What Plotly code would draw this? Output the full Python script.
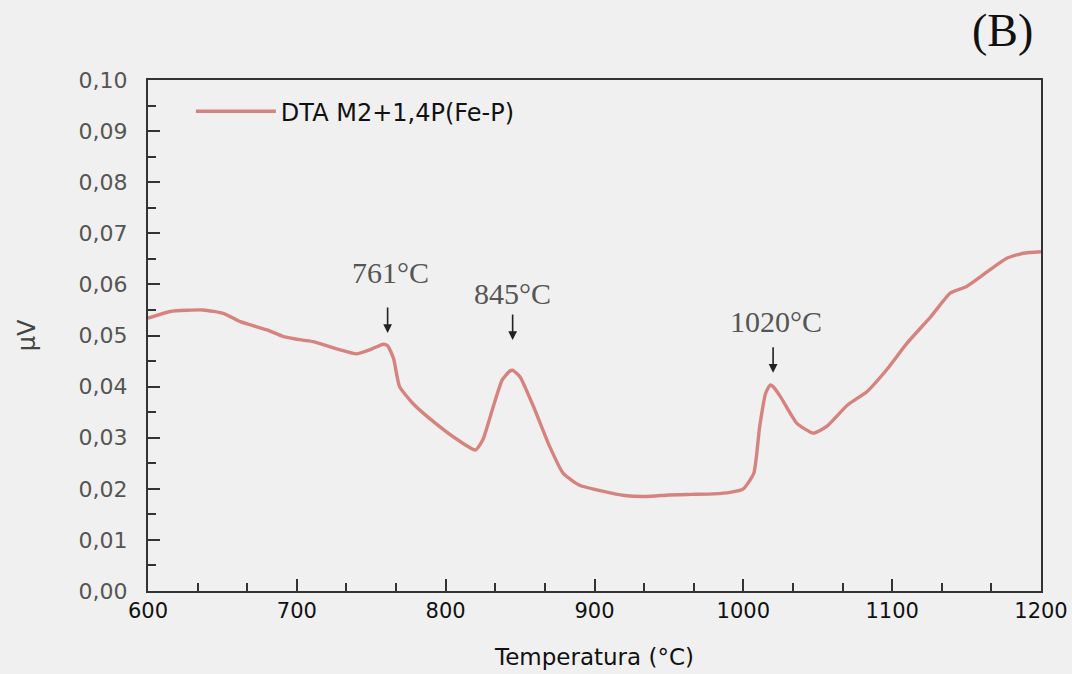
import plotly.graph_objects as go

temperature = [600, 615, 637, 651, 662, 680, 691, 704, 711, 729, 740, 749, 758, 761, 765, 769,
               778, 792, 808, 820, 825, 832, 838, 843, 845, 850, 859, 870, 879, 890, 906, 920,
               935, 950, 965, 980, 991, 1000, 1007, 1011, 1015, 1018, 1020, 1025, 1036, 1047,
               1056, 1070, 1083, 1096, 1110, 1126, 1139, 1150, 1164, 1177, 1188, 1200]
dta = [0.0534, 0.0547, 0.0550, 0.0543, 0.0527, 0.0511, 0.0498, 0.0491, 0.0488, 0.0472, 0.0464,
       0.0472, 0.0483, 0.0480, 0.0455, 0.0400, 0.0367, 0.0331, 0.0296, 0.0276, 0.0296, 0.0361,
       0.0413, 0.0430, 0.0432, 0.0419, 0.0361, 0.0282, 0.0230, 0.0207, 0.0195, 0.0187, 0.0185,
       0.0188, 0.0189, 0.0190, 0.0193, 0.0200, 0.0230, 0.0322, 0.0387, 0.0403, 0.0400, 0.0380,
       0.0328, 0.0309, 0.0322, 0.0364, 0.0390, 0.0432, 0.0485, 0.0537, 0.0583, 0.0596, 0.0625,
       0.0651, 0.0661, 0.0664]

peak_temps = [761, 845, 1020]
peak_arrow_tips = [0.0505, 0.0491, 0.0427]
peak_label_x = [763, 845, 1022]
peak_label_y = [0.0624, 0.0583, 0.0528]
peak_labels = ["761°C", "845°C", "1020°C"]

x_ticks = [600, 700, 800, 900, 1000, 1100, 1200]
y_ticks = [0.00, 0.01, 0.02, 0.03, 0.04, 0.05, 0.06, 0.07, 0.08, 0.09, 0.10]

bg = "#f0f0f0"
fig = go.Figure()
fig.add_trace(go.Scatter(
    x=temperature, y=dta, mode="lines", name="DTA M2+1,4P(Fe-P)",
    line=dict(color="#d6837f", width=3.4, shape="spline", smoothing=0.5),
))

annotations = []
for t, tip, lx, ly, lab in zip(peak_temps, peak_arrow_tips, peak_label_x, peak_label_y, peak_labels):
    annotations.append(dict(
        x=t, y=tip, xref="x", yref="y", text="", showarrow=True,
        arrowhead=2, arrowsize=1.1, arrowwidth=1.6, arrowcolor="#222",
        ax=0, ay=-27,
    ))
    annotations.append(dict(
        x=lx, y=ly, xref="x", yref="y", text=lab, showarrow=False,
        font=dict(family="Liberation Serif", size=30, color="#555"),
    ))
annotations.append(dict(
    x=(1002 - 148) / 893, y=1 + (80 - 30) / 511, xref="paper", yref="paper", text="(B)",
    showarrow=False, xanchor="center", yanchor="middle",
    font=dict(family="Liberation Serif", size=46, color="#111"),
))

fig.update_layout(
    width=1072, height=674,
    paper_bgcolor=bg, plot_bgcolor=bg,
    margin=dict(l=148, r=31, t=80, b=83, autoexpand=False),
    separators=",.",
    showlegend=True,
    legend=dict(x=0.048, y=0.982, xanchor="left", yanchor="top", bgcolor="rgba(0,0,0,0)",
                font=dict(family="DejaVu Sans", size=24, color="#111"), itemwidth=80),
    annotations=annotations,
    xaxis=dict(
        range=[600, 1200], tickvals=x_ticks, ticks="inside", ticklen=12, tickwidth=2,
        tickcolor="#333", showline=True, linecolor="#333", linewidth=2, mirror=True,
        showgrid=False, zeroline=False, automargin=False,
        minor=dict(dtick=100 / 3, tick0=600, ticks="inside", ticklen=8, tickwidth=2, tickcolor="#333"),
        tickfont=dict(family="DejaVu Sans", size=21, color="#111"),
        title=dict(text="Temperatura (°C)", font=dict(family="DejaVu Sans", size=23, color="#111"),
                   standoff=27),
    ),
    yaxis=dict(
        range=[0, 0.10], tickvals=y_ticks, tickformat=".2f", ticks="inside", ticklen=12,
        tickwidth=2, tickcolor="#333", showline=True, linecolor="#333", linewidth=2, mirror=True,
        showgrid=False, zeroline=False, automargin=False, ticklabelstandoff=14,
        minor=dict(dtick=0.005, ticks="inside", ticklen=8, tickwidth=2, tickcolor="#333"),
        tickfont=dict(family="DejaVu Sans", size=22, color="#555"),
        title=dict(text="µV", font=dict(family="DejaVu Sans", size=24, color="#444"), standoff=36),
    ),
)

fig.write_html("out.html")
